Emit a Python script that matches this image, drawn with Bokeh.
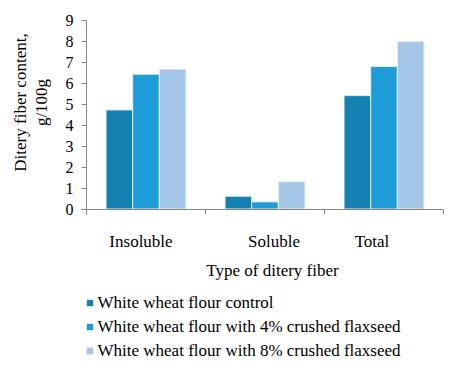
import math
from bokeh.plotting import figure
from bokeh.models import Range1d, FixedTicker, Label, Legend, LegendItem, ColumnDataSource
from bokeh.embed import file_html
from bokeh.resources import INLINE

categories = ["Insoluble", "Soluble", "Total"]
series_names = ["White wheat flour control",
                "White wheat flour with 4% crushed flaxseed",
                "White wheat flour with 8% crushed flaxseed"]
control = [4.72, 0.61, 5.40]
flax4 = [6.42, 0.34, 6.79]
flax8 = [6.66, 1.30, 7.98]
y_ticks = [0, 1, 2, 3, 4, 5, 6, 7, 8, 9]

colors = ["#1380B2", "#1D9CD7", "#A5C8E8"]
label_offsets = [-5, 9, -12]
FONT = "Liberation Serif"

W, H = 453, 374
X0, X3, Y0, Y9 = 86.0, 443.0, 208.5, 19.5
kx = (X3 - X0) / 3.0
ky = (Y0 - Y9) / 9.0
x_range = Range1d(-X0 / kx, 3 + (W - X3) / kx)
y_range = Range1d(-(H - Y0) / ky, 9 + Y9 / ky)

p = figure(width=W, height=H, output_backend="svg", toolbar_location=None,
           x_range=x_range, y_range=y_range, min_border=0)
p.outline_line_color = None
p.grid.visible = False
p.background_fill_color = "white"
p.border_fill_color = "white"

renderers = []
width = 0.224
for j, vals in enumerate([control, flax4, flax8]):
    xs = [i + 0.5 + (j - 1) * width for i in range(len(categories))]
    src = ColumnDataSource(dict(x=xs, top=vals))
    r = p.vbar(x="x", top="top", width=width, bottom=0, source=src,
               fill_color=colors[j], line_color="#E8EEF5", line_width=1)
    renderers.append(r)

p.xaxis.fixed_location = 0
p.xaxis.bounds = (0, 3)
p.xaxis.ticker = FixedTicker(ticks=[0, 1, 2, 3])
p.xaxis.major_label_text_font_size = "0px"
p.xaxis.major_label_text_color = None
p.yaxis.fixed_location = 0
p.yaxis.bounds = (0, 9)
p.yaxis.ticker = FixedTicker(ticks=y_ticks)
for ax in (p.xaxis, p.yaxis):
    ax.axis_line_color = "#868686"
    ax.major_tick_line_color = "#868686"
    ax.major_tick_out = 5
    ax.major_tick_in = 0
    ax.minor_tick_line_color = None
p.yaxis.major_label_text_font = FONT
p.yaxis.major_label_text_font_size = "16px"
p.yaxis.major_label_text_color = "black"
p.yaxis.major_label_standoff = 8

def fy(py):
    return H - py

def text_label(x, y, t, **kw):
    opts = dict(x=x, y=y, x_units="screen", y_units="screen", text=t,
                text_align="center", text_baseline="middle",
                text_font=FONT, text_font_size="17px", text_color="black")
    opts.update(kw)
    p.add_layout(Label(**opts))

for i, c in enumerate(categories):
    p.add_layout(Label(x=i + 0.5, y=fy(241), y_units="screen", text=c,
                       x_offset=label_offsets[i],
                       text_align="center", text_baseline="middle",
                       text_font=FONT, text_font_size="17px", text_color="black"))

text_label(272, fy(270), "Type of ditery fiber")
text_label(20, fy(102), "Ditery fiber content,", angle=math.pi / 2)
text_label(41, fy(102), "g/100g", angle=math.pi / 2)

# legend swatches (Bokeh legend), texts as serif labels
row_y = [302, 326, 350]
legend = Legend(items=[LegendItem(label=" ", renderers=[renderers[j]]) for j in range(3)],
                location=(85, fy(362)), orientation="vertical",
                glyph_width=9, glyph_height=9, label_standoff=0,
                label_text_font_size="1px", label_width=1,
                label_height=24, spacing=0, padding=0, margin=0,
                border_line_color=None, background_fill_alpha=0)
p.add_layout(legend, "center")
for j, name in enumerate(series_names):
    text_label(97, fy(row_y[j]), name, text_align="left")

open("out.html", "w").write(file_html(p, INLINE))
